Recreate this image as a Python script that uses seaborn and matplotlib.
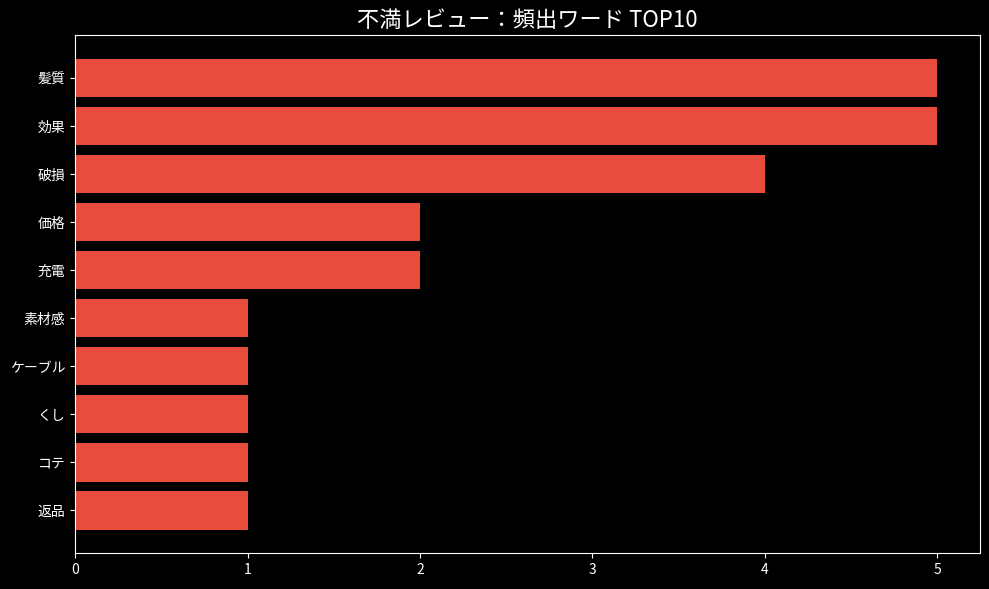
import matplotlib.pyplot as plt
import seaborn as sns
import pandas as pd

# data
words = ["髪質", "効果", "破損", "価格", "充電", "素材感", "ケーブル", "くし", "コテ", "返品"]
counts = [5, 5, 4, 2, 2, 1, 1, 1, 1, 1]

df = pd.DataFrame({"word": words, "count": counts})

plt.style.use("dark_background")
plt.rcParams['font.family'] = ['Noto Sans CJK JP', 'DejaVu Sans']

fig, ax = plt.subplots(figsize=(9.89, 5.89), dpi=100)
sns.barplot(data=df, x="count", y="word", color="#e74c3c", saturation=1, width=0.8, ax=ax)

# same padding as plain barh (5% margin around the bars)
n = len(words)
pad = 0.05 * (n - 1 + 0.8)
ax.set_ylim(n - 1 + 0.4 + pad, -0.4 - pad)

ax.set_title("不満レビュー：頻出ワード TOP10", fontsize=16)
ax.set_xlabel("")
ax.set_ylabel("")
ax.tick_params(labelsize=10)

plt.subplots_adjust(left=0.076, right=0.991, top=0.94, bottom=0.061)
plt.savefig("out.png", dpi=100)
